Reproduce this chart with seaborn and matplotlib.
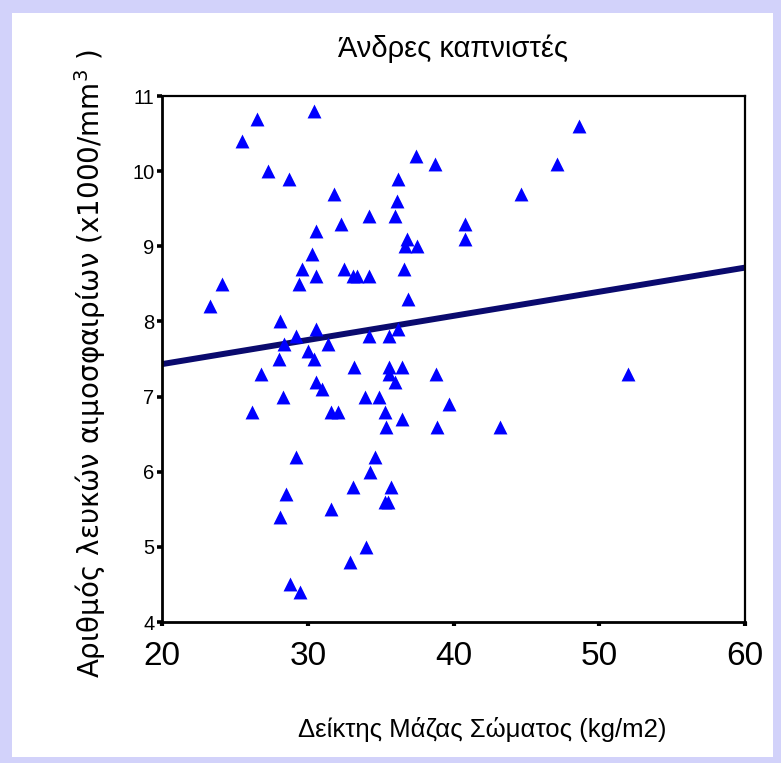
import seaborn as sns
import pandas as pd
import numpy as np
import matplotlib
matplotlib.use("Agg")
from matplotlib import pyplot as plt
from matplotlib.patches import Rectangle

# Δείκτης μάζας σώματος (x) και λευκά αιμοσφαίρια (y), διαβασμένα από το γράφημα
bmi = [23.3, 24.1, 25.5, 26.5, 27.3, 28.7, 30.4, 31.8, 32.3, 30.6,
       30.3, 29.6, 29.4, 30.6, 32.5, 33.1, 33.4, 34.2, 34.2, 36.0,
       36.1, 36.2, 37.4, 38.7, 36.8, 36.7, 37.5, 40.8, 40.8, 44.6,
       47.1, 48.6, 36.6, 36.9, 36.2, 34.2, 35.6, 28.1, 30.6, 29.2,
       28.4, 31.4, 30.0, 30.4, 28.0, 33.2, 35.6, 36.5, 35.6, 36.0,
       38.8, 52.0, 26.8, 30.6, 31.0, 28.3, 33.9, 34.9, 39.7, 26.2,
       31.6, 32.1, 35.3, 36.5, 35.4, 38.9, 43.2, 29.2, 34.6, 34.3,
       33.1, 35.7, 35.3, 35.5, 28.5, 28.1, 31.6, 34.0, 32.9, 28.8,
       29.5]
wbc = [8.2, 8.5, 10.4, 10.7, 10.0, 9.9, 10.8, 9.7, 9.3, 9.2,
       8.9, 8.7, 8.5, 8.6, 8.7, 8.6, 8.6, 8.6, 9.4, 9.4,
       9.6, 9.9, 10.2, 10.1, 9.1, 9.0, 9.0, 9.3, 9.1, 9.7,
       10.1, 10.6, 8.7, 8.3, 7.9, 7.8, 7.8, 8.0, 7.9, 7.8,
       7.7, 7.7, 7.6, 7.5, 7.5, 7.4, 7.4, 7.4, 7.3, 7.2,
       7.3, 7.3, 7.3, 7.2, 7.1, 7.0, 7.0, 7.0, 6.9, 6.8,
       6.8, 6.8, 6.8, 6.7, 6.6, 6.6, 6.6, 6.2, 6.2, 6.0,
       5.8, 5.8, 5.6, 5.6, 5.7, 5.4, 5.5, 5.0, 4.8, 4.5,
       4.4]
# γραμμή παλινδρόμησης όπως δίνεται στο αρχικό γράφημα
fit_intercept = 6.79
fit_slope = 0.0321
x_ticks = [20, 30, 40, 50, 60]
y_ticks = [4, 5, 6, 7, 8, 9, 10, 11]

df = pd.DataFrame({'bmi': bmi, 'wbc': wbc})
fit = pd.DataFrame({'bmi': [x_ticks[0], x_ticks[-1]]})
fit['wbc'] = fit_intercept + fit_slope * fit['bmi']

sns.set_theme(style="white")
arial = ['Liberation Sans', 'DejaVu Sans']
plt.rcParams['text.color'] = 'black'

fig = plt.figure(figsize=(7.81, 7.63), dpi=100)
fig.patch.set_facecolor('#d2d2fa')
# λευκό πλαίσιο διαφάνειας
fig.patches.append(Rectangle((12 / 781, 6 / 763), 761 / 781, 744 / 763,
                             transform=fig.transFigure, facecolor='white',
                             edgecolor='none', zorder=-5))

ax = fig.add_axes([162 / 781, 1 - 622 / 763, 583 / 781, 526 / 763])

sns.lineplot(data=fit, x='bmi', y='wbc', ax=ax, color='#0a0a6e',
             linewidth=4.3, zorder=2)
sns.scatterplot(data=df, x='bmi', y='wbc', ax=ax, marker='^', s=100,
                color='#0000ff', linewidth=0, zorder=3)

ax.set_xlim(20, 60)
ax.set_ylim(4, 11)
ax.set_xticks(x_ticks)
ax.set_yticks(y_ticks)
ax.tick_params(axis='x', direction='out', length=3, width=3, pad=11,
               labelsize=24, colors='black')
ax.tick_params(axis='y', direction='out', length=3.5, width=2.6, pad=2,
               labelsize=14.5, colors='black')
for lab in ax.get_xticklabels() + ax.get_yticklabels():
    lab.set_family(arial)
ax.tick_params(bottom=True, left=True)

for side in ['left', 'bottom']:
    ax.spines[side].set_linewidth(2.0)
for side in ['top', 'right']:
    ax.spines[side].set_linewidth(1.6)
for sp in ax.spines.values():
    sp.set_color('black')
    sp.set_visible(True)

ax.set_title('Άνδρες καπνιστές', fontsize=21, family=arial, pad=28,
             color='black')
ax.set_xlabel('Δείκτης Μάζας Σώματος (kg/m2)', fontsize=18.5, family=arial,
              color='black')
ax.xaxis.set_label_coords(0.549, -0.18)
ax.set_ylabel('Αριθμός λευκών αιμοσφαιρίων (x1000/mm$^3$ )', fontsize=20,
              family=['DejaVu Sans'], color='black')
ax.yaxis.set_label_coords(-0.093, 0.49)

fig.savefig('out.png', dpi=100, facecolor=fig.get_facecolor())
